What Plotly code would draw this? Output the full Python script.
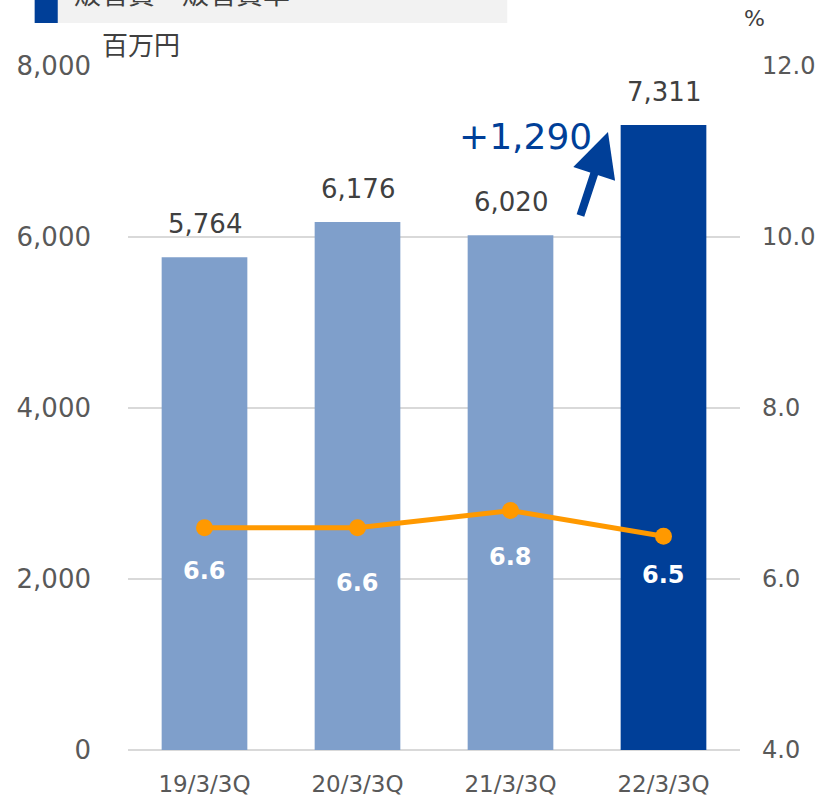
import plotly.graph_objects as go

categories = ["19/3/3Q", "20/3/3Q", "21/3/3Q", "22/3/3Q"]
sga_mn_yen = [5764, 6176, 6020, 7311]
sga_ratio = [6.6, 6.6, 6.8, 6.5]
increase_label = "+1,290"
left_ticks = [0, 2000, 4000, 6000, 8000]
right_ticks = [4.0, 6.0, 8.0, 10.0, 12.0]

# label offsets below each ratio marker (px)
ratio_label_dy = [-43, -55, -46, -39]

FONT = "DejaVu Sans, Noto Sans CJK JP"
GREY = "#595959"
DARK = "#404040"
LIGHT_BLUE = "#7F9FCB"
NAVY = "#003F98"
ORANGE = "#FF9900"

fig = go.Figure()
fig.add_trace(
    go.Bar(
        x=categories,
        y=sga_mn_yen,
        marker=dict(color=[LIGHT_BLUE] * 3 + [NAVY], line=dict(width=0)),
        width=0.56,
        yaxis="y",
        showlegend=False,
    )
)
fig.add_trace(
    go.Scatter(
        x=categories,
        y=sga_ratio,
        mode="lines+markers",
        line=dict(color=ORANGE, width=5),
        marker=dict(color=ORANGE, size=17),
        yaxis="y2",
        showlegend=False,
    )
)

# value labels above bars
for c, v in zip(categories, sga_mn_yen):
    fig.add_annotation(
        x=c, y=v, yref="y", text=f"{v:,}", showarrow=False,
        yshift=33, font=dict(size=26, color=DARK, family=FONT),
    )

# ratio labels below markers
for c, v, dy in zip(categories, sga_ratio, ratio_label_dy):
    fig.add_annotation(
        x=c, y=v, yref="y2", text=f"<b>{v:.1f}</b>", showarrow=False,
        yshift=dy, font=dict(size=24, color="white", family=FONT),
    )

# increase arrow + label
fig.add_annotation(
    x=2.637, y=7228, yref="y", ax=-28, ay=85, text="",
    showarrow=True, arrowhead=2, arrowsize=1.1, arrowwidth=8, arrowcolor=NAVY,
)
fig.add_annotation(
    x=2.1, y=7170, yref="y", text=increase_label, showarrow=False,
    font=dict(size=36, color=NAVY, family=FONT),
)

# cut-off title box at the top
fig.add_shape(type="rect", xref="paper", yref="paper", x0=-0.1525, x1=0.6197,
              y0=1.063, y1=1.13, fillcolor="#F2F2F2", line=dict(width=0), layer="below")
fig.add_shape(type="rect", xref="paper", yref="paper", x0=-0.1525, x1=-0.1148,
              y0=1.063, y1=1.13, fillcolor=NAVY, line=dict(width=0))
fig.add_annotation(
    xref="paper", yref="paper", x=-0.0918, y=1.104, xanchor="left", yanchor="middle",
    text="販管費・販管費率", showarrow=False, font=dict(size=27, color=DARK, family=FONT),
)
fig.add_annotation(
    xref="paper", yref="paper", x=-0.046, y=1.029, xanchor="left", yanchor="middle",
    text="百万円", showarrow=False, font=dict(size=26, color=DARK, family=FONT),
)
fig.add_annotation(
    xref="paper", yref="paper", x=1.0245, y=1.07, xanchor="center", yanchor="middle",
    text="%", showarrow=False, font=dict(size=22, color=DARK, family=FONT),
)

fig.update_layout(
    width=820,
    height=799,
    margin=dict(l=128, r=80, t=66, b=49, autoexpand=False),
    plot_bgcolor="white",
    paper_bgcolor="white",
    font=dict(family=FONT, color=GREY),
    xaxis=dict(
        type="category",
        showgrid=False,
        showline=False,
        ticks="",
        tickfont=dict(size=23, color=GREY),
        ticklabelstandoff=18,
        automargin=False,
    ),
    yaxis=dict(
        range=[0, 8000],
        tickvals=left_ticks,
        tickformat=",",
        showgrid=True,
        gridcolor="#D9D9D9",
        gridwidth=1.5,
        zeroline=True,
        zerolinecolor="#D9D9D9",
        zerolinewidth=1.5,
        showline=False,
        ticks="",
        tickfont=dict(size=26, color=GREY),
        ticklabelstandoff=36,
        automargin=False,
    ),
    yaxis2=dict(
        range=[4, 12],
        tickvals=right_ticks,
        tickformat=".1f",
        overlaying="y",
        side="right",
        showgrid=False,
        zeroline=False,
        showline=False,
        ticks="",
        tickfont=dict(size=24, color=GREY),
        ticklabelstandoff=21,
        automargin=False,
    ),
)

fig.write_html(
    "out.html",
    config={"displayModeBar": False},
    post_script="document.body.style.margin='0px';",
)
